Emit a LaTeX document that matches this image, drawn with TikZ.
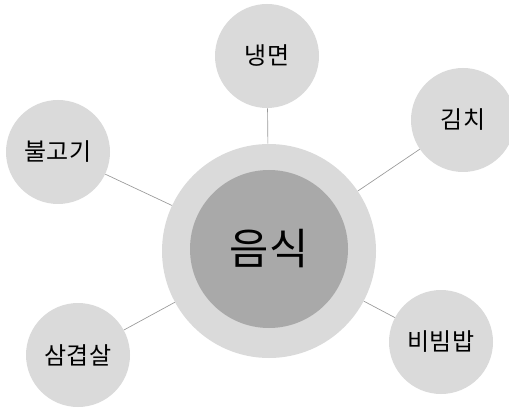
\documentclass[tikz,border=0pt]{standalone}
\usepackage{fontspec}
\newfontfamily\kor{Noto Sans CJK KR}
\definecolor{lightgray}{HTML}{DADADA}
\definecolor{midgray}{HTML}{A9A9A9}
\tikzstyle{outer} = [
    circle,
    fill=lightgray,
    minimum size=160.5pt
]
\tikzstyle{inner} = [
    circle,
    fill=midgray,
    minimum size=118.5pt,
    font=\kor\fontsize{32}{36}\selectfont
]
\tikzstyle{dish} = [
    circle,
    fill=lightgray,
    minimum size=78pt,
    font=\kor\fontsize{18}{21}\selectfont
]
\tikzstyle{link} = [draw=gray!80, line width=0.5pt]

\begin{document}
\begin{tikzpicture}[x=0.75pt, y=-0.75pt]
\useasboundingbox (0,0) rectangle (509,409);

\node (food) [outer] at (269,251) {};
\node (foodin) [inner] at (269,249) {음식};

\node (naengmyeon) [dish] at (267,56) {냉면};
\node (kimchi) [dish] at (463,120) {김치};
\node (bulgogi) [dish] at (58,152) {불고기};
\node (samgyeopsal) [dish] at (78,355) {삼겹살};
\node (bibimbap) [dish] at (441,342) {비빔밥};

\draw [link] (naengmyeon) -- (food);
\draw [link] (kimchi) -- (food);
\draw [link] (bulgogi) -- (food);
\draw [link] (samgyeopsal) -- (food);
\draw [link] (bibimbap) -- (food);

\end{tikzpicture}
\end{document}
